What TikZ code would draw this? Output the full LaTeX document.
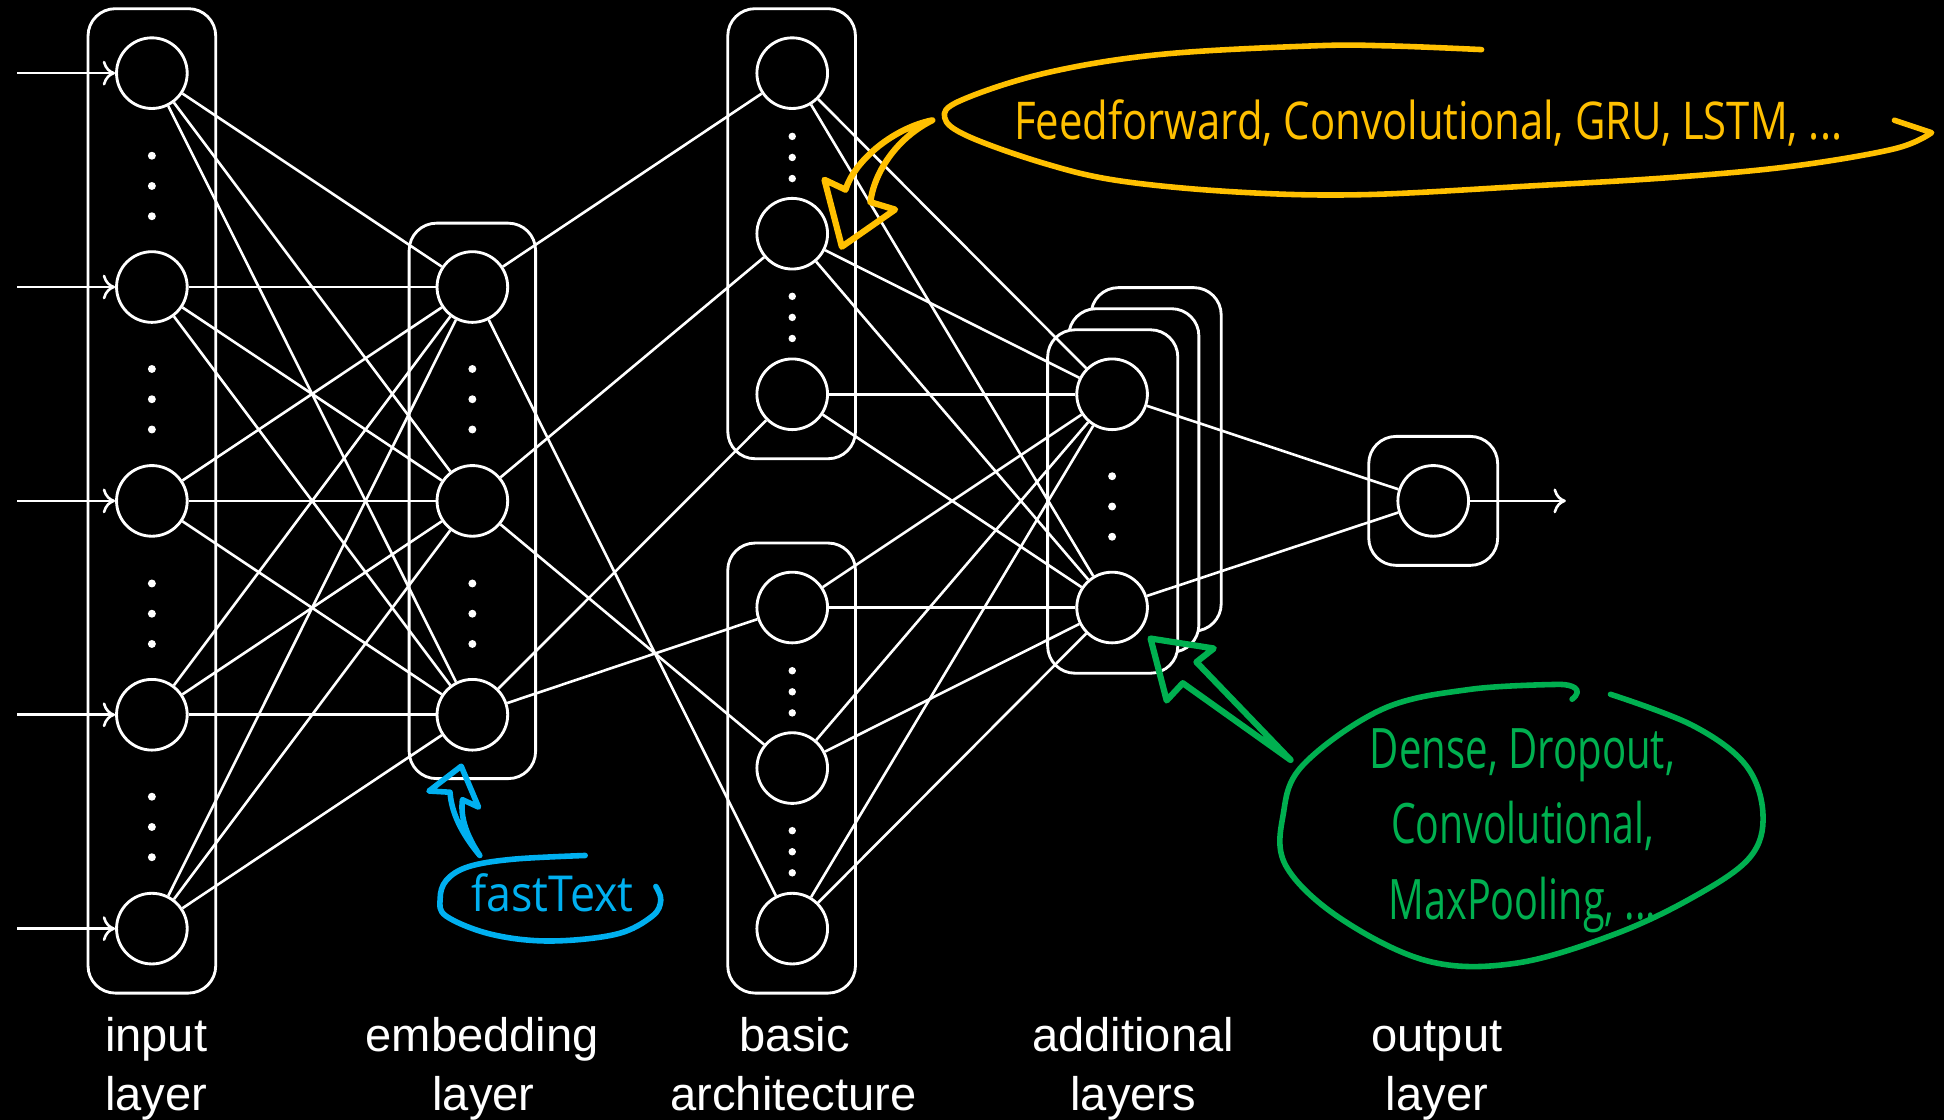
\documentclass[tikz,border=0pt]{standalone}
\usepackage{fontspec}
\setmainfont{Liberation Sans}
\newfontfamily\handfont{Open Sans}
\usetikzlibrary{arrows.meta}
\definecolor{hyel}{HTML}{FFC000}
\definecolor{hgrn}{HTML}{00B050}
\definecolor{hblu}{HTML}{00B0F0}
\begin{document}
\begin{tikzpicture}[x=1pt,y=-1pt,
  neuron/.style={circle, draw=white, line width=2.3pt, fill=black, minimum size=57pt, inner sep=0pt},
  layerbox/.style={draw=white, line width=2.3pt, rounded corners=22pt},
  frontbox/.style={layerbox, fill=black},
  conn/.style={draw=white, line width=2.1pt},
  io/.style={conn, -{Computer Modern Rightarrow[length=10pt,width=20pt]}},
  lbl/.style={text=white, font=\fontsize{38}{47.5}\selectfont, anchor=base, inner sep=0pt},
  hand/.style={line width=4.5pt, line cap=round, line join=round},
  handtxt/.style={inner sep=0pt, anchor=base},
]
\fill[black] (0,0) rectangle (1568,903);
\useasboundingbox (0,0) rectangle (1568,903);

% layer boxes
\draw[layerbox] (71,7) rectangle (174,801);
\draw[layerbox] (330,180) rectangle (432,628);
\draw[layerbox] (587,7) rectangle (690,370);
\draw[layerbox] (587,438) rectangle (690,801);
\draw[frontbox] (880,232) rectangle (985,509);
\draw[frontbox] (862,249) rectangle (967,526);
\draw[frontbox] (845,266) rectangle (950,543);
\draw[layerbox] (1104,352) rectangle (1208,456);

% neurons
\node[neuron] (i1) at (122.5,59) {};
\node[neuron] (i2) at (122.5,231.5) {};
\node[neuron] (i3) at (122.5,404) {};
\node[neuron] (i4) at (122.5,576.5) {};
\node[neuron] (i5) at (122.5,749) {};
\node[neuron] (e1) at (381,231.5) {};
\node[neuron] (e2) at (381,404) {};
\node[neuron] (e3) at (381,576.5) {};
\node[neuron] (u1) at (639,59) {};
\node[neuron] (u2) at (639,188.5) {};
\node[neuron] (u3) at (639,318) {};
\node[neuron] (l1) at (639,490) {};
\node[neuron] (l2) at (639,619.5) {};
\node[neuron] (l3) at (639,749) {};
\node[neuron] (a1) at (897,318) {};
\node[neuron] (a2) at (897,490) {};
\node[neuron] (o1) at (1156,404) {};

% connections
\foreach \s in {i1,i2,i3,i4,i5} \foreach \t in {e1,e2,e3} \draw[conn] (\s) -- (\t);
\draw[conn] (e1) -- (u1);
\draw[conn] (e1) -- (l3);
\draw[conn] (e2) -- (u2);
\draw[conn] (e2) -- (l2);
\draw[conn] (e3) -- (u3);
\draw[conn] (e3) -- (l1);
\foreach \s in {u1,u2,u3,l1,l2,l3} \foreach \t in {a1,a2} \draw[conn] (\s) -- (\t);
\draw[conn] (a1) -- (o1);
\draw[conn] (a2) -- (o1);

% dots
\foreach \c in {150,322,495,667} \foreach \d in {-24.4,0,24.4} \fill[white] (122.5,\c+\d) circle (3.2pt);
\foreach \c in {322,495} \foreach \d in {-24.4,0,24.4} \fill[white] (381,\c+\d) circle (3.2pt);
\foreach \c in {127,256,558,687} \foreach \d in {-17,0,17} \fill[white] (639,\c+\d) circle (3pt);
\foreach \d in {-24.4,0,24.4} \fill[white] (897,408.5+\d) circle (3.2pt);

% input / output arrows
\coordinate (s1) at (14,59);
\coordinate (s2) at (14,231.5);
\coordinate (s3) at (14,404);
\coordinate (s4) at (14,576.5);
\coordinate (s5) at (14,749);
\coordinate (oe) at (1263,404);
\foreach \k in {1,...,5} \draw[io] (s\k) -- (i\k);
\draw[io] (o1) -- (oe);

% labels
\node[lbl] (lab1a) at (126,848.5) {input};
\node[lbl] (lab1b) at (126,896) {layer};
\node[lbl] (lab2a) at (389,848.5) {embedding};
\node[lbl] (lab2b) at (390,896) {layer};
\node[lbl] (lab3a) at (641,848.5) {basic};
\node[lbl] (lab3b) at (640,896) {architecture};
\node[lbl] (lab4a) at (914,848.5) {additional};
\node[lbl] (lab4b) at (914,896) {layers};
\node[lbl] (lab5a) at (1159,848.5) {output};
\node[lbl] (lab5b) at (1159,896) {layer};

% yellow annotation
\draw[hand, hyel] plot[smooth, tension=0.6] coordinates {(1195,40) (1120,37) (1059,37) (935,44) (843,59) (775,81) (762,95) (781,110) (843,132) (904,146) (1000,155) (1100,157) (1234,150) (1350,143) (1446,134) (1528,120) (1558,107)} -- (1528,97);
\draw[hand, hyel, line width=5pt] (752,97) .. controls (722,103) and (690,128) .. (682,153) -- (665,145) -- (679,199) -- (722,169) -- (702,163) .. controls (705,140) and (722,112) .. (752,97);
\node[handtxt, text=hyel] (tyel) at (1152,112.5) {\resizebox{668pt}{\height}{\handfont\fontsize{42}{42}\selectfont Feedforward, Convolutional, GRU, LSTM, ...}};

% blue annotation
\draw[hand, hblu] plot[smooth, tension=0.6] coordinates {(472,690) (414,693) (378,699) (360,710) (355,725) (360,739) (396,753.5) (443,759) (497,753.5) (526,739) (533,726) (529,715)};
\draw[hand, hblu] (387,690) .. controls (372,672) and (364,655) .. (363,639) -- (346,638) -- (372,618) -- (386,651) -- (373,645) .. controls (371,660) and (377,675) .. (387,690);
\node[handtxt, text=hblu] (tblu) at (445.5,735) {\resizebox{131pt}{\height}{\handfont\fontsize{40}{40}\selectfont fastText}};

% green annotation
\draw[hand, hgrn] plot[smooth, tension=0.6] coordinates {(1299,560) (1365,585) (1408,617) (1422,657) (1411,692) (1365,724) (1301,754) (1222,777) (1151,775) (1080,740) (1037,698) (1035,657) (1051,617) (1115,572) (1186,556) (1258,552)} .. controls (1268,552) and (1278,556) .. (1268,564);
\draw[hand, hgrn, line width=5pt] (1041,613) -- (965,534) -- (979,523) -- (928,515) -- (941,565) -- (954,551) -- cycle;
\node[handtxt, text=hgrn] (tg1) at (1228,620) {\resizebox{246pt}{\height}{\handfont\fontsize{45}{45}\selectfont Dense, Dropout,}};
\node[handtxt, text=hgrn] (tg2) at (1228,680) {\resizebox{212pt}{\height}{\handfont\fontsize{45}{45}\selectfont Convolutional,}};
\node[handtxt, text=hgrn] (tg3) at (1228,742) {\resizebox{216pt}{\height}{\handfont\fontsize{45}{45}\selectfont MaxPooling, ...}};
\end{tikzpicture}
\end{document}
